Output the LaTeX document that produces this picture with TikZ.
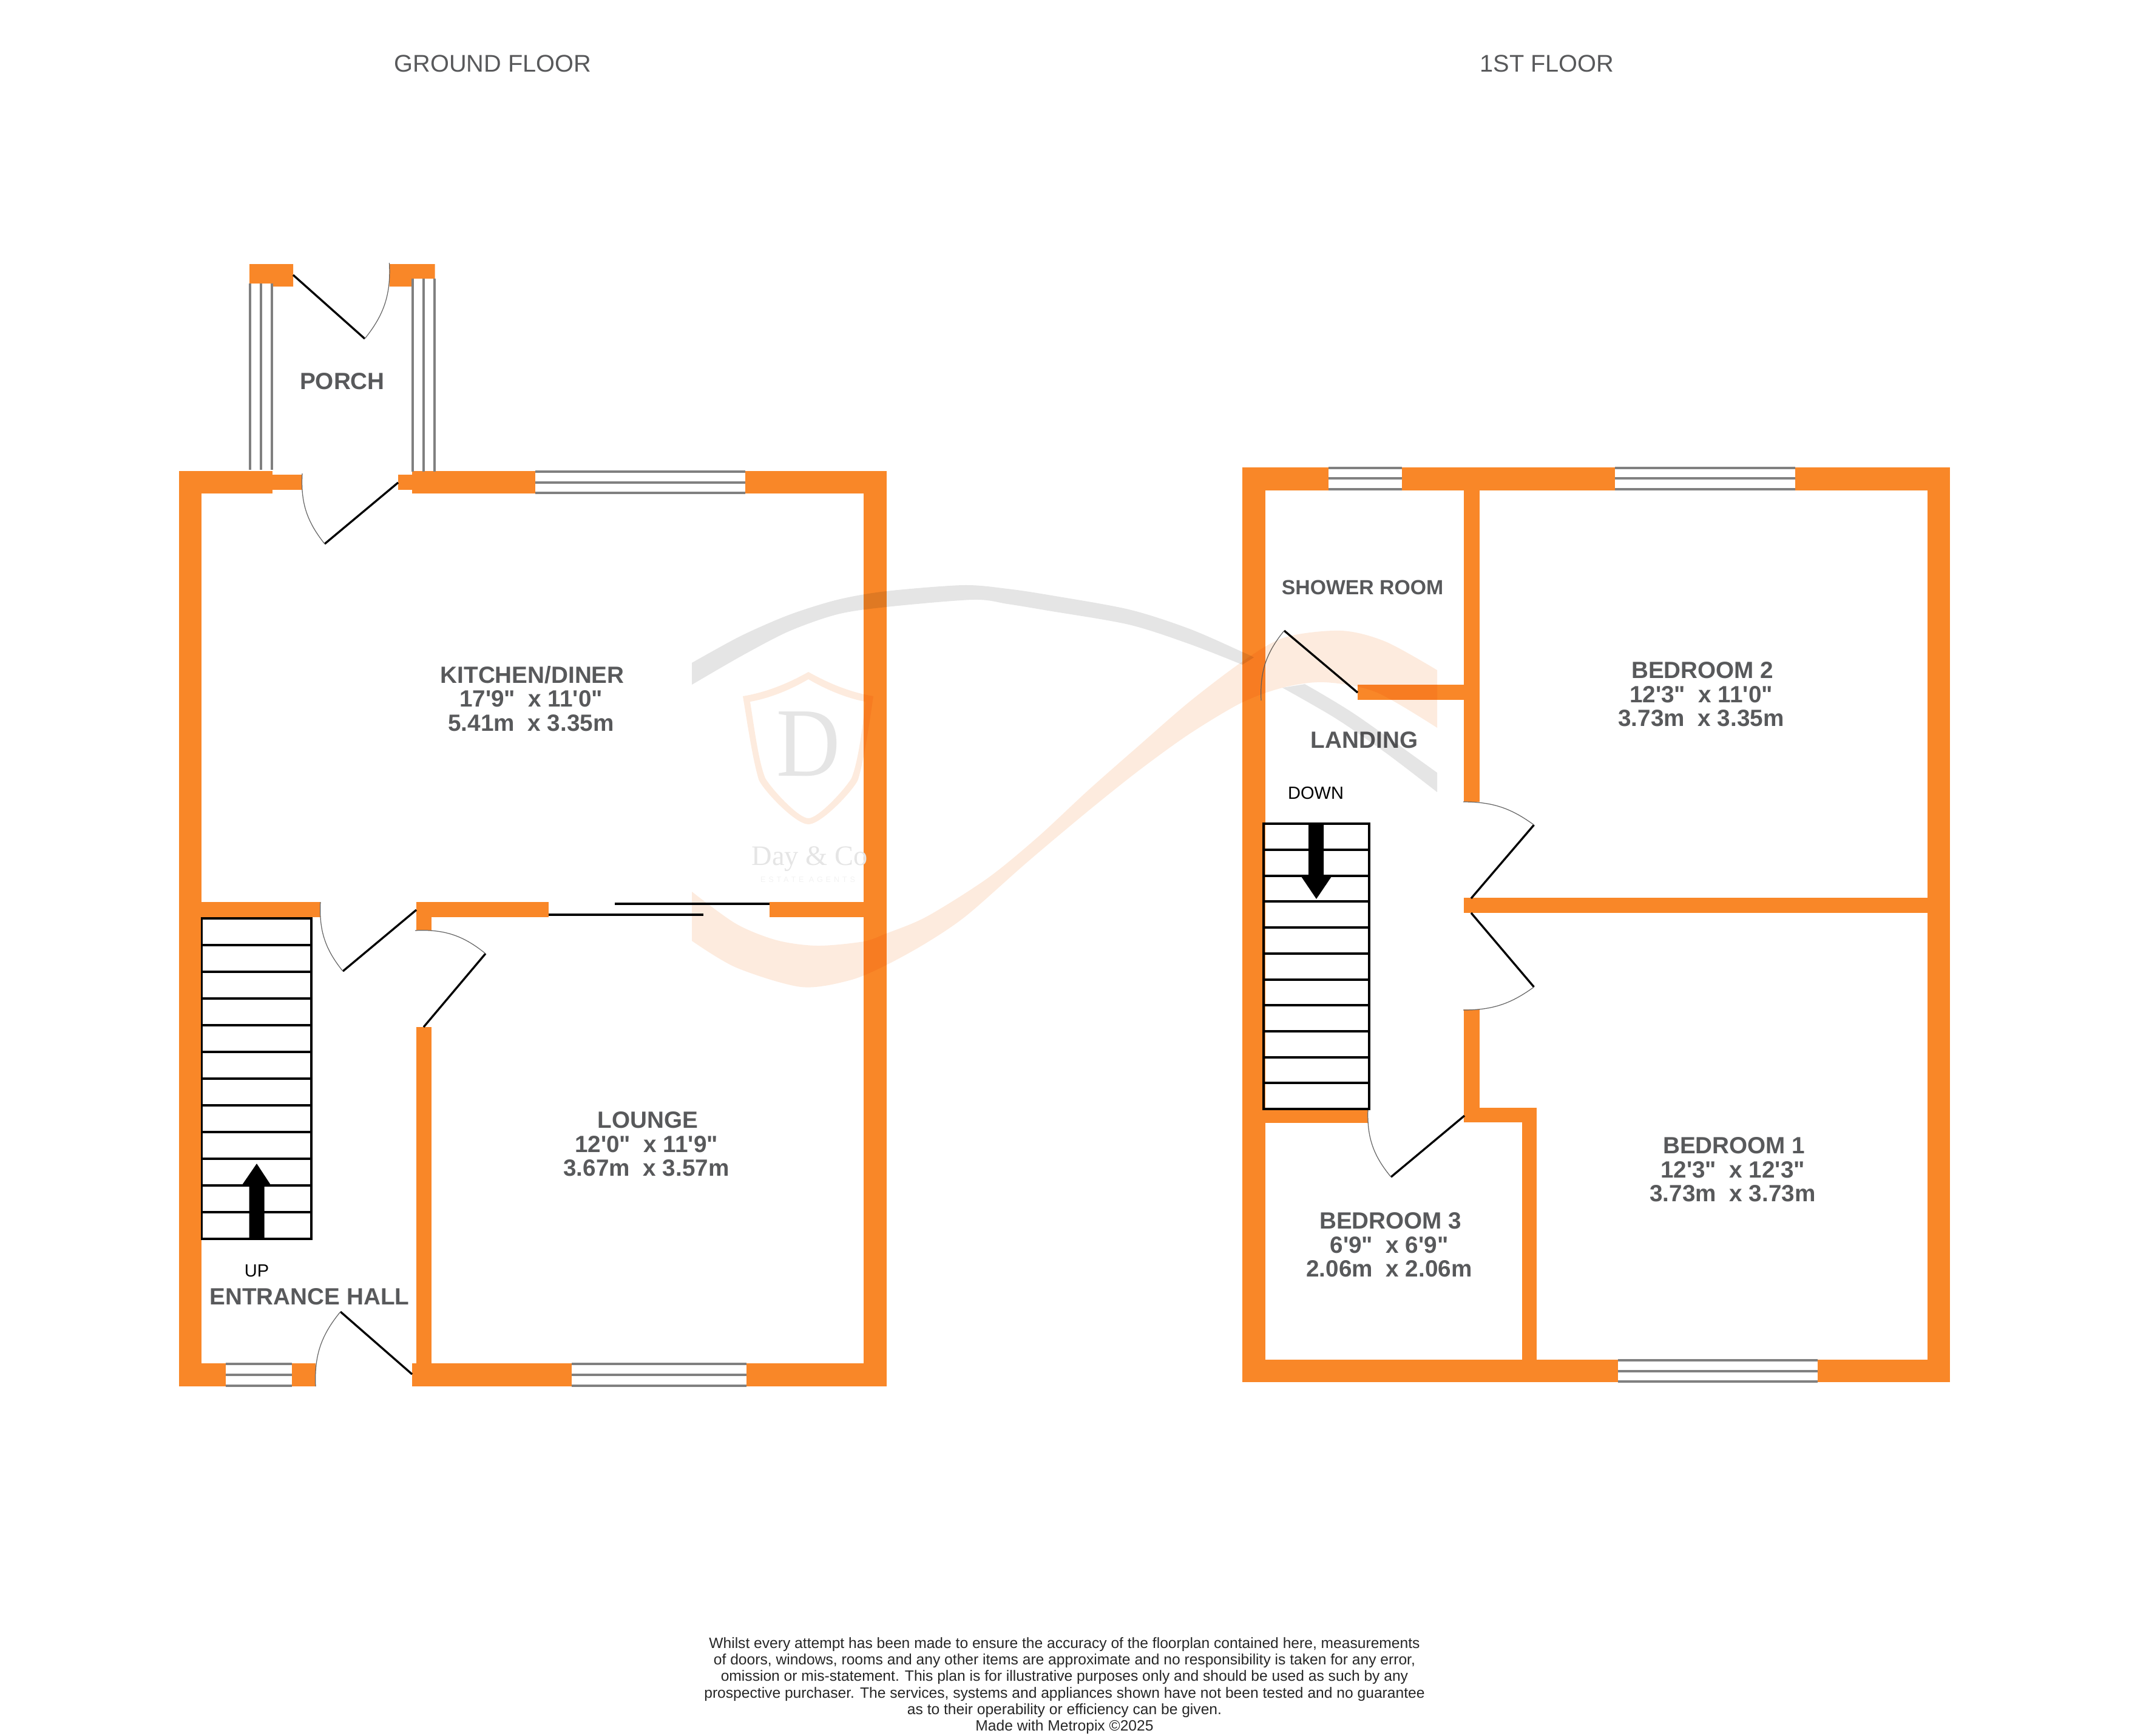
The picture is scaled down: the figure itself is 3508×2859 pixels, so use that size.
\documentclass[tikz,border=0pt]{standalone}
\usepackage{fontspec}
\setmainfont{Liberation Sans}[Ligatures=TeXOff]
\newfontfamily\logofont{Liberation Serif}
\newfontfamily\logotag{Liberation Sans}[LetterSpace=38]
\usepackage{xcolor}
\usetikzlibrary{shapes.geometric}
\definecolor{wallorange}{HTML}{F98728}
\definecolor{labelgrey}{HTML}{58595B}
\definecolor{windowgrey}{HTML}{808080}
\definecolor{markgrey}{HTML}{E5E5E5}
\definecolor{markpeach}{HTML}{FDEBDE}
\tikzstyle{wall}=[fill=wallorange, draw=none]
\tikzstyle{windowline}=[draw=windowgrey, line width=0.9pt]
\tikzstyle{leaf}=[draw=black, line width=0.95pt]
\tikzstyle{swing}=[draw=black!60, line width=0.35pt]
\tikzstyle{tread}=[draw=black, line width=0.95pt]
\tikzstyle{roomlabel}=[text=labelgrey, inner sep=0pt, align=center, font=\fontsize{11pt}{11.2pt}\selectfont\bfseries]
\tikzstyle{title}=[text=labelgrey, inner sep=0pt, font=\fontsize{11.3pt}{12pt}\selectfont]
\tikzstyle{stairlabel}=[text=black, inner sep=0pt, font=\fontsize{8.25pt}{9pt}\selectfont]
\tikzstyle{markband}=[blend mode=multiply, draw=none]

\begin{document}
\begin{tikzpicture}[x=0.01cm, y=-0.01cm]
        \useasboundingbox (0,0) rectangle (3508,2859);

        %% Ground floor
        \node[title] (gf_title) at (812, 105) {GROUND FLOOR};
        % Walls
        \fill[wall] (295,776) rectangle (332,2284);
        \fill[wall] (295,776) rectangle (449,813);
        \fill[wall] (449,782) rectangle (498,807);
        \fill[wall] (656,782) rectangle (679,807);
        \fill[wall] (679,776) rectangle (882,813);
        \fill[wall] (1228,776) rectangle (1461,813);
        \fill[wall] (1423,776) rectangle (1461,2284);
        \fill[wall] (295,2246) rectangle (372,2284);
        \fill[wall] (481,2246) rectangle (520,2284);
        \fill[wall] (679,2246) rectangle (942,2284);
        \fill[wall] (1230,2246) rectangle (1461,2284);
        \fill[wall] (295,1486) rectangle (528,1511);
        \fill[wall] (686,1486) rectangle (711,1533);
        \fill[wall] (711,1486) rectangle (904,1511);
        \fill[wall] (1268,1486) rectangle (1461,1511);
        \fill[wall] (686,1692) rectangle (711,2246);
        \fill[wall] (411,435) -- (483,435) -- (483,472) -- (449,472) -- (449,467) -- (411,467) -- cycle;
        \fill[wall] (641.5,435) -- (716.5,435) -- (716.5,459) -- (679,459) -- (679,472) -- (641.5,472) -- cycle;
        % Windows
        \draw[windowline] (412,467) -- (412,774) (430,467) -- (430,774) (448,467) -- (448,774);
        \draw[windowline] (680,459) -- (680,777) (698,459) -- (698,777) (716,459) -- (716,777);
        \draw[windowline] (882,777) -- (1228,777) (882,795) -- (1228,795) (882,812) -- (1228,812);
        \draw[windowline] (372,2247) -- (481,2247) (372,2265) -- (481,2265) (372,2283) -- (481,2283);
        \draw[windowline] (942,2247) -- (1230,2247) (942,2265) -- (1230,2265) (942,2283) -- (1230,2283);
        % Doors
        \draw[leaf] (483,453) -- (601,558);
        \draw[swing] (601,558) to[bend right=21] (641.5,433);
        \draw[leaf] (656,795) -- (535,896);
        \draw[swing] (498,780) to[bend right=21] (535,896);
        \draw[leaf] (686,1499) -- (565,1600);
        \draw[swing] (528,1486) to[bend right=21] (565,1600);
        \draw[leaf] (698,1692) -- (800,1571);
        \draw[swing] (684,1533) to[bend left=21] (800,1571);
        \draw[leaf] (679,2264) -- (561,2161);
        \draw[swing] (520,2284) to[bend left=21] (561,2161);
        % Sliding door
        \draw[leaf] (904,1507) -- (1159,1507);
        \draw[leaf] (1013,1489) -- (1268,1489);
        % Stairs
        \draw[tread] (332.5,1513) rectangle (513,2041);
        \draw[tread] (332.5,1557) -- (513,1557);
        \draw[tread] (332.5,1601) -- (513,1601);
        \draw[tread] (332.5,1645) -- (513,1645);
        \draw[tread] (332.5,1689) -- (513,1689);
        \draw[tread] (332.5,1733) -- (513,1733);
        \draw[tread] (332.5,1777) -- (513,1777);
        \draw[tread] (332.5,1821) -- (513,1821);
        \draw[tread] (332.5,1865) -- (513,1865);
        \draw[tread] (332.5,1909) -- (513,1909);
        \draw[tread] (332.5,1953) -- (513,1953);
        \draw[tread] (332.5,1997) -- (513,1997);
        \fill[black] (410.5,2041) -- (410.5,1952) -- (399,1952) -- (423,1917) -- (446,1952) -- (435.5,1952) -- (435.5,2041) -- cycle;
        % Labels
        \node[stairlabel] (gf_up) at (423, 2094) {UP};
        \node[roomlabel] (gf_hall) at (510, 2136) {ENTRANCE HALL};
        \node[roomlabel] (gf_porch) at (564, 628) {PORCH};
        \node[roomlabel] (gf_kitchen) at (875, 1151) {\hspace*{1.25pt}KITCHEN/DINER\\17'9"~ x 11'0"\\5.41m~ x 3.35m};
        \node[roomlabel] (gf_lounge) at (1065, 1885) {\hspace*{1.25pt}LOUNGE\\12'0"~ x 11'9"\\3.67m~ x 3.57m};

        %% First floor
        \node[title] (ff_title) at (2549, 105) {1ST FLOOR};
        % Walls
        \fill[wall] (2047,770) rectangle (2085,2277);
        \fill[wall] (2047,770) rectangle (2189,807.5);
        \fill[wall] (2310,770) rectangle (2661,807.5);
        \fill[wall] (2958,770) rectangle (3213,807.5);
        \fill[wall] (3176,770) rectangle (3213,2277);
        \fill[wall] (2047,2240) rectangle (2666,2277);
        \fill[wall] (2995,2240) rectangle (3213,2277);
        \fill[wall] (2412,807) rectangle (2438,1321);
        \fill[wall] (2237,1128) rectangle (2412,1153);
        \fill[wall] (2412,1663) rectangle (2438,1849);
        \fill[wall] (2438,1825) rectangle (2532,1849);
        \fill[wall] (2508,1825) rectangle (2532,2240);
        \fill[wall] (2412,1479) rectangle (3213,1504);
        \fill[wall] (2085,1827) rectangle (2254,1850);
        % Windows
        \draw[windowline] (2189,771) -- (2310,771) (2189,788) -- (2310,788) (2189,806) -- (2310,806);
        \draw[windowline] (2661,771) -- (2958,771) (2661,788) -- (2958,788) (2661,806) -- (2958,806);
        \draw[windowline] (2666,2241) -- (2995,2241) (2666,2259) -- (2995,2259) (2666,2276) -- (2995,2276);
        % Doors
        \draw[leaf] (2237,1141) -- (2116,1039);
        \draw[swing] (2078,1154) to[bend left=21] (2116,1039);
        \draw[leaf] (2424,1480) -- (2527.5,1359);
        \draw[swing] (2411,1321) to[bend left=18] (2527.5,1359);
        \draw[leaf] (2424,1504) -- (2527.5,1626);
        \draw[swing] (2411,1664) to[bend right=18] (2527.5,1626);
        \draw[leaf] (2413,1838) -- (2292,1939);
        \draw[swing] (2254,1827) to[bend right=21] (2292,1939);
        % Stairs
        \draw[tread] (2082,1357) rectangle (2256,1827);
        \draw[tread] (2082,1400) -- (2256,1400);
        \draw[tread] (2082,1443) -- (2256,1443);
        \draw[tread] (2082,1485) -- (2256,1485);
        \draw[tread] (2082,1528) -- (2256,1528);
        \draw[tread] (2082,1571) -- (2256,1571);
        \draw[tread] (2082,1614) -- (2256,1614);
        \draw[tread] (2082,1656) -- (2256,1656);
        \draw[tread] (2082,1699) -- (2256,1699);
        \draw[tread] (2082,1742) -- (2256,1742);
        \draw[tread] (2082,1784) -- (2256,1784);
        \fill[black] (2156,1357) -- (2156,1444) -- (2144,1444) -- (2169,1481) -- (2194,1444) -- (2181,1444) -- (2181,1357) -- cycle;
        % Labels
        \node[stairlabel] (ff_down) at (2168, 1306) {DOWN};
        \node[roomlabel, font=\fontsize{9.6pt}{10pt}\selectfont\bfseries] (ff_shower) at (2245, 968) {SHOWER ROOM};
        \node[roomlabel] (ff_landing) at (2248, 1219) {LANDING};
        \node[roomlabel] (ff_bed2) at (2803, 1144) {\hspace*{1.25pt}BEDROOM 2\\12'3"~ x 11'0"\\3.73m~ x 3.35m};
        \node[roomlabel] (ff_bed1) at (2855, 1927) {\hspace*{1.25pt}BEDROOM 1\\12'3"~ x 12'3"\\3.73m~ x 3.73m};
        \node[roomlabel] (ff_bed3) at (2289, 2051) {\hspace*{1.25pt}BEDROOM 3\\6'9"~ x 6'9"\\2.06m~ x 2.06m};

        %% Watermark
        % Bands
        \fill[markband, markgrey] plot[smooth] coordinates {(1140,1092) (1220,1048) (1300,1013) (1380,988) (1460,974) (1587,964) (1660,970) (1727,980) (1860,1004) (1960,1036) (2047,1074) (2066,1083)} -- plot[smooth] coordinates {(2047,1095) (1960,1061) (1860,1029) (1727,1006) (1660,995) (1603,988) (1460,1000) (1380,1012) (1300,1040) (1223,1080) (1140,1128)} -- cycle;
        \fill[markband, markgrey] plot[smooth] coordinates {(2150,1127) (2233,1177) (2368,1273)} -- plot[smooth] coordinates {(2368,1305) (2283,1240) (2200,1183) (2113,1133)} -- cycle;
        \fill[markband, markpeach] plot[smooth] coordinates {(1140,1469) (1213,1522) (1280,1549) (1347,1558) (1423,1551) (1460,1538) (1527,1510) (1627,1447) (1710,1379) (1793,1302) (1877,1228) (1960,1156) (2047,1090) (2117,1050) (2210,1039) (2283,1057) (2368,1104)} -- plot[smooth] coordinates {(2368,1199) (2267,1140) (2183,1124) (2117,1132) (2047,1157) (1960,1209) (1877,1269) (1793,1336) (1693,1420) (1593,1508) (1527,1553) (1460,1590) (1400,1615) (1320,1626) (1213,1594) (1140,1550)} -- cycle;
        % Shield
        \fill[markband, markpeach, even odd rule] (1332,1107) .. controls (1300,1125) and (1265,1140) .. (1224,1147) .. controls (1232,1195) and (1240,1250) .. (1250,1284) .. controls (1256,1300) and (1310,1358) .. (1332,1358) .. controls (1354,1358) and (1408,1300) .. (1414,1284) .. controls (1424,1250) and (1432,1195) .. (1439,1147) .. controls (1399,1140) and (1364,1125) .. (1332,1107) -- cycle
            (1332,1119) .. controls (1305,1135) and (1270,1150) .. (1236,1156) .. controls (1243,1200) and (1250,1255) .. (1261,1282) .. controls (1270,1298) and (1315,1348) .. (1332,1348) .. controls (1349,1348) and (1394,1298) .. (1403,1282) .. controls (1414,1255) and (1421,1200) .. (1426,1156) .. controls (1394,1150) and (1359,1135) .. (1332,1119) -- cycle;
        % Logo text
        \node[text=markgrey, inner sep=0pt, anchor=base, xscale=0.9, font=\logofont\fontsize{46pt}{46pt}\selectfont] (mark_d) at (1332, 1278) {D};
        \node[text=markgrey, inner sep=0pt, anchor=base west, font=\logofont\fontsize{13.2pt}{14pt}\selectfont] (mark_name) at (1238, 1425) {Day \& Co};
        \node[text=black!5, inner sep=0pt, font=\logotag\fontsize{3.6pt}{4pt}\selectfont] (mark_tag) at (1331, 1449) {ESTATE AGENTS};

        %% Disclaimer
        \node[text=black!85, inner sep=0pt, align=center, font=\fontsize{7pt}{7.74pt}\selectfont] (disclaimer) at (1754, 2777) {Whilst every attempt has been made to ensure the accuracy of the floorplan contained here, measurements\\of doors, windows, rooms and any other items are approximate and no responsibility is taken for any error,\\omission or mis-statement. This plan is for illustrative purposes only and should be used as such by any\\prospective purchaser. The services, systems and appliances shown have not been tested and no guarantee\\as to their operability or efficiency can be given.\\Made with Metropix ©2025};
\end{tikzpicture}
\end{document}
